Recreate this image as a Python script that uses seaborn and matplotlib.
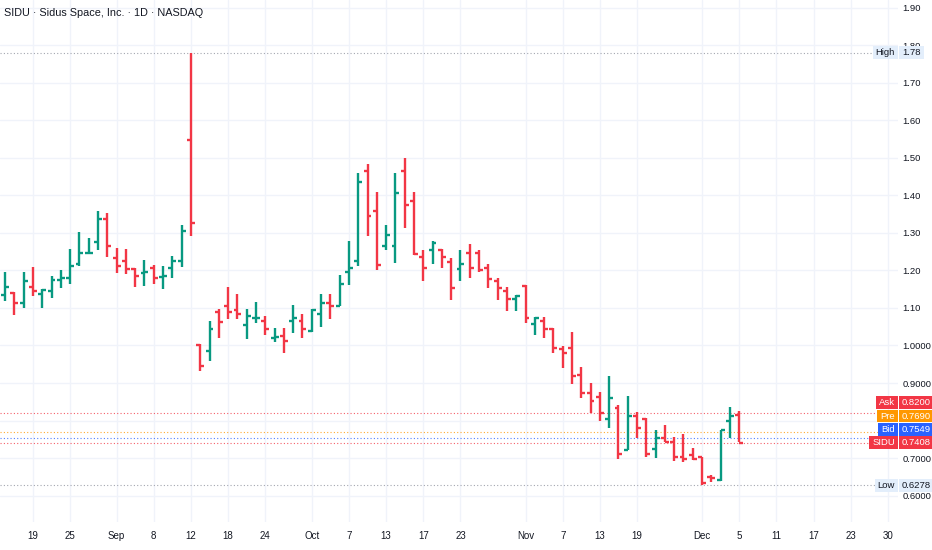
import numpy as np
import pandas as pd
import matplotlib
matplotlib.use("Agg")
import matplotlib.pyplot as plt
import seaborn as sns
from matplotlib import font_manager as fm
from matplotlib.patches import Rectangle

# ---------------- data ----------------
dates = [
    "2025-08-14", "2025-08-15", "2025-08-18", "2025-08-19", "2025-08-20", "2025-08-21", "2025-08-22",
    "2025-08-25", "2025-08-26", "2025-08-27", "2025-08-28", "2025-08-29",
    "2025-09-02", "2025-09-03", "2025-09-04", "2025-09-05", "2025-09-08", "2025-09-09", "2025-09-10",
    "2025-09-11", "2025-09-12", "2025-09-15", "2025-09-16", "2025-09-17", "2025-09-18", "2025-09-19",
    "2025-09-22", "2025-09-23", "2025-09-24", "2025-09-25", "2025-09-26", "2025-09-29", "2025-09-30",
    "2025-10-01", "2025-10-02", "2025-10-03", "2025-10-06", "2025-10-07", "2025-10-08", "2025-10-09",
    "2025-10-10", "2025-10-13", "2025-10-14", "2025-10-15", "2025-10-16", "2025-10-17", "2025-10-20",
    "2025-10-21", "2025-10-22", "2025-10-23", "2025-10-24", "2025-10-27", "2025-10-28", "2025-10-29",
    "2025-10-30", "2025-10-31",
    "2025-11-03", "2025-11-04", "2025-11-05", "2025-11-06", "2025-11-07", "2025-11-10", "2025-11-11",
    "2025-11-12", "2025-11-13", "2025-11-14", "2025-11-17", "2025-11-18", "2025-11-19", "2025-11-20",
    "2025-11-21", "2025-11-24", "2025-11-25", "2025-11-26", "2025-11-28",
    "2025-12-01", "2025-12-02", "2025-12-03", "2025-12-04", "2025-12-05",
]
opens = [
    1.134, 1.141, 1.114, 1.155, 1.137, 1.146, 1.174, 1.181, 1.217, 1.246, 1.275, 1.336,
    1.233, 1.226, 1.204, 1.193, 1.206, 1.183, 1.206, 1.226, 1.546, 1.000, 0.985, 1.089, 1.105, 1.095,
    1.054, 1.072, 1.065, 1.021, 1.025, 1.065, 1.065,
    1.038, 1.085, 1.113, 1.104, 1.195, 1.226, 1.465, 1.357, 1.264, 1.264, 1.465, 1.385, 1.235, 1.253,
    1.253, 1.222, 1.204, 1.246, 1.246, 1.206, 1.172, 1.146, 1.123,
    1.159, 1.056, 1.065, 1.045, 0.991, 0.994, 0.922, 0.873, 0.862, 0.803, 0.833, 0.721, 0.812, 0.804,
    0.724, 0.755, 0.744, 0.704, 0.708,
    0.703, 0.650, 0.641, 0.799, 0.815,
]
highs = [
    1.196, 1.143, 1.197, 1.208, 1.150, 1.186, 1.202, 1.256, 1.302, 1.286, 1.357, 1.354,
    1.259, 1.257, 1.206, 1.228, 1.214, 1.213, 1.237, 1.322, 1.780, 1.005, 1.065, 1.096, 1.157, 1.137,
    1.096, 1.116, 1.079, 1.047, 1.047, 1.107, 1.083,
    1.096, 1.137, 1.137, 1.188, 1.277, 1.458, 1.482, 1.409, 1.320, 1.458, 1.498, 1.409, 1.255, 1.277,
    1.257, 1.232, 1.255, 1.270, 1.255, 1.217, 1.181, 1.157, 1.134,
    1.161, 1.077, 1.077, 1.047, 0.998, 1.036, 0.943, 0.900, 0.875, 0.920, 0.842, 0.866, 0.824, 0.806,
    0.775, 0.788, 0.757, 0.763, 0.727,
    0.703, 0.656, 0.775, 0.835, 0.826,
]
lows = [
    1.118, 1.080, 1.101, 1.131, 1.101, 1.126, 1.152, 1.164, 1.213, 1.246, 1.253, 1.235,
    1.192, 1.190, 1.155, 1.159, 1.165, 1.150, 1.179, 1.210, 1.291, 0.931, 0.958, 1.021, 1.070, 1.071,
    1.016, 1.061, 1.029, 1.009, 0.980, 1.034, 1.019,
    1.036, 1.050, 1.070, 1.104, 1.161, 1.213, 1.291, 1.202, 1.253, 1.221, 1.312, 1.241, 1.172, 1.217,
    1.206, 1.121, 1.172, 1.181, 1.195, 1.152, 1.121, 1.092, 1.092,
    1.061, 1.029, 1.021, 0.980, 0.940, 0.898, 0.860, 0.820, 0.800, 0.780, 0.699, 0.721, 0.753, 0.703,
    0.701, 0.742, 0.692, 0.690, 0.694,
    0.6278, 0.636, 0.638, 0.754, 0.742,
]
closes = [
    1.155, 1.114, 1.172, 1.146, 1.148, 1.174, 1.180, 1.213, 1.246, 1.247, 1.336, 1.266,
    1.213, 1.204, 1.184, 1.197, 1.179, 1.186, 1.226, 1.304, 1.326, 0.945, 1.043, 1.062, 1.089, 1.085,
    1.079, 1.074, 1.043, 1.022, 1.013, 1.072, 1.043,
    1.094, 1.113, 1.105, 1.163, 1.206, 1.436, 1.345, 1.214, 1.294, 1.406, 1.375, 1.244, 1.206, 1.273,
    1.235, 1.152, 1.217, 1.206, 1.202, 1.177, 1.152, 1.123, 1.132,
    1.074, 1.074, 1.045, 0.994, 0.979, 0.918, 0.873, 0.851, 0.820, 0.860, 0.710, 0.812, 0.780, 0.710,
    0.753, 0.744, 0.704, 0.697, 0.699,
    0.635, 0.647, 0.775, 0.811, 0.7408,
]

holidays = ["2025-09-01", "2025-11-27", "2025-12-25"]
tick_dates = [
    "2025-08-19", "2025-08-25", "2025-09-02", "2025-09-08", "2025-09-12", "2025-09-18", "2025-09-24",
    "2025-10-01", "2025-10-07", "2025-10-13", "2025-10-17", "2025-10-23",
    "2025-11-03", "2025-11-07", "2025-11-13", "2025-11-19",
    "2025-12-01", "2025-12-05", "2025-12-11", "2025-12-17", "2025-12-23", "2025-12-30",
]
tick_labels = ["19", "25", "Sep", "8", "12", "18", "24", "Oct", "7", "13", "17", "23",
               "Nov", "7", "13", "19", "Dec", "5", "11", "17", "23", "30"]

# 0.8000 is hidden behind the quote labels in the reference
price_ticks = [0.6, 0.7, 0.8, 0.9, 1.0, 1.1, 1.2, 1.3, 1.4, 1.5, 1.6, 1.7, 1.8, 1.9]
price_tick_labels = ["0.6000", "0.7000", "", "0.9000", "1.0000", "1.10", "1.20", "1.30",
                     "1.40", "1.50", "1.60", "1.70", "1.80", "1.90"]

title = "SIDU · Sidus Space, Inc. · 1D · NASDAQ"
high_value = 1.78
low_value = 0.6278
quote_names = ["Ask", "Pre", "Bid", "SIDU"]
quote_values = [0.8200, 0.7690, 0.7549, 0.7408]
quote_colors = ["#F23645", "#FF9800", "#2962FF", "#F23645"]

UP = "#089981"
DOWN = "#F23645"
TEXT = "#131722"
GRID = "#F0F3FA"

# ---------------- style ----------------
sns.set_theme(style="white")
names = {f.name for f in fm.fontManager.ttflist}
FONT = "Liberation Sans Narrow" if "Liberation Sans Narrow" in names else "Liberation Sans"
plt.rcParams["font.family"] = [FONT, "DejaVu Sans"]
FS = 7.0
FSY = 6.8

W, H = 932, 550
fig = plt.figure(figsize=(W / 100, H / 100), dpi=100)
fig.patch.set_facecolor("white")
PLOT_RIGHT = 898
PLOT_BOTTOM = 522
ax = fig.add_axes([0, (H - PLOT_BOTTOM) / H, PLOT_RIGHT / W, PLOT_BOTTOM / H])
ax.set_facecolor("white")

# trading calendar -> bar positions
cal = pd.bdate_range("2025-08-14", "2026-01-09")
cal = cal[~cal.isin(pd.to_datetime(holidays))]
pos = {d.strftime("%Y-%m-%d"): i for i, d in enumerate(cal)}

x = np.array([pos[d] for d in dates], dtype=float)
o = np.array(opens); h = np.array(highs); l = np.array(lows); c = np.array(closes)
cols = np.where(c >= o, UP, DOWN)

px_per_bar = 9.293
x_left = x[0] - 5.1 / px_per_bar
ax.set_xlim(x_left, x_left + PLOT_RIGHT / px_per_bar)
ax.set_ylim(0.530, 1.920)

tick_w = 0.42
lw = 1.7
ax.vlines(x, l, h, colors=cols, lw=lw, zorder=3)
ax.hlines(o, x - tick_w, x, colors=cols, lw=lw, zorder=3)
ax.hlines(c, x, x + tick_w, colors=cols, lw=lw, zorder=3)

# axes / grid
ax.set_xticks([pos[d] for d in tick_dates])
ax.set_xticklabels(tick_labels)
ax.set_yticks(price_ticks)
ax.set_yticklabels(price_tick_labels)
ax.yaxis.tick_right()
ax.tick_params(axis="y", length=0, pad=3.2, labelsize=FSY, labelcolor=TEXT)
ax.tick_params(axis="x", length=0, pad=6.8, labelsize=FS, labelcolor=TEXT)
ax.grid(True, color=GRID, lw=1.0, zorder=0)
ax.set_axisbelow(True)
for s in ax.spines.values():
    s.set_visible(False)

# dotted reference lines
line_end = 880 / PLOT_RIGHT
dots = (0, (1, 2))
ax.axhline(high_value, xmax=line_end, color="#A3A6AF", lw=0.8, ls=dots, zorder=2)
ax.axhline(low_value, xmax=line_end, color="#A3A6AF", lw=0.8, ls=dots, zorder=2)
for v, col in zip(quote_values, quote_colors):
    ax.axhline(v, xmax=line_end, color=col, lw=0.8, ls=dots, zorder=2, alpha=0.8)

# title
fig.text(4 / W, 1 - 13 / H, title, fontsize=7.8, color=TEXT, ha="left", va="center")

# price labels on the scale
renderer = fig.canvas.get_renderer()
BOX_H = 12.8


def ypix(v):
    return ax.transData.transform((0, v))[1]  # pixels from bottom


def scale_label(y_disp, name, value_str, fc, tc):
    yf = y_disp / H
    tv = fig.text(902 / W, yf, value_str, fontsize=FSY, color=tc, ha="left", va="center", zorder=5)
    bb = tv.get_window_extent(renderer)
    fig.add_artist(Rectangle(((bb.x0 - 3) / W, (y_disp - BOX_H / 2) / H),
                             (bb.x1 - bb.x0 + 6) / W, BOX_H / H,
                             transform=fig.transFigure, fc=fc, ec="none", zorder=4))
    tn = fig.text(895 / W, yf, name, fontsize=FSY, color=tc, ha="right", va="center", zorder=5)
    bn = tn.get_window_extent(renderer)
    fig.add_artist(Rectangle(((bn.x0 - 3) / W, (y_disp - BOX_H / 2) / H),
                             (898 - bn.x0 + 3) / W, BOX_H / H,
                             transform=fig.transFigure, fc=fc, ec="none", zorder=4))


scale_label(ypix(high_value), "High", f"{high_value:.2f}", "#E3EEFB", TEXT)
scale_label(ypix(low_value), "Low", f"{low_value:.4f}", "#E3EEFB", TEXT)
base = ypix(quote_values[-1])
n = len(quote_values)
for k, (nm, v, col) in enumerate(zip(quote_names, quote_values, quote_colors)):
    yd = base + (n - 1 - k) * 13.4
    scale_label(yd, nm, f"{v:.4f}", col, "white")

fig.savefig("out.png", dpi=100)
